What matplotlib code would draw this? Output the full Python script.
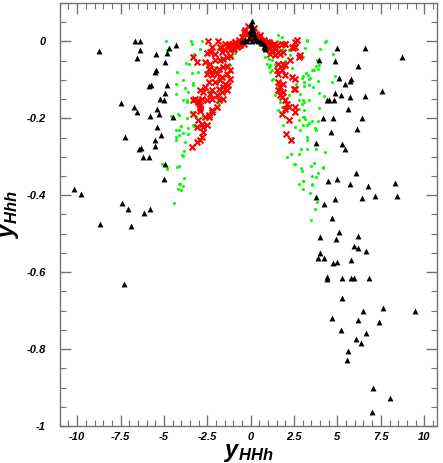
import matplotlib
matplotlib.use('Agg')
import matplotlib.pyplot as plt
import numpy as np

plt.rcParams['font.family'] = ['Liberation Sans', 'DejaVu Sans']
plt.rcParams['mathtext.fontset'] = 'custom'
plt.rcParams['mathtext.it'] = 'Liberation Sans:bold:italic'
plt.rcParams['mathtext.rm'] = 'Liberation Sans:bold:italic'

# black triangles
black_x = [-8.77, -6.66, -6.39, -6.35, -6.54, -4.33, -4.68, -5.43, -4.85, -4.93,
           -5.46, -5.54, -5.85, -5.73, -4.85, -4.93, -5.20, -5.00, -7.48, -6.71,
           -6.54, -5.39, -5.27, -5.81, -4.48, -5.39, -5.18, -7.22, -5.50, -6.31,
           -6.41, -5.49, -6.18, -5.87, -4.95, -4.97, -10.21, -9.79, -7.39, -7.08,
           -6.16, -5.78, -8.71, -6.89, -7.29,
           4.99, 6.60, 8.73, 4.87, 6.21, 3.95, 5.08, 5.78, 5.72, 5.45,
           7.58, 4.87, 5.18, 5.73, 6.60, 4.41, 4.51, 4.80, 5.60, 4.18,
           4.76, 6.41, 6.14, 4.60, 5.26, 5.45, 3.78, 6.06, 4.48, 4.95,
           5.75, 6.77, 8.33, 3.78, 4.83, 4.24, 6.41, 7.19, 8.44, 4.71,
           5.10, 3.97, 4.93, 6.21, 5.93, 6.18, 6.66, 3.99, 3.87, 4.22,
           4.75, 4.95, 5.79, 4.37, 4.37, 5.27, 5.79, 5.93, 6.81, 5.29,
           6.47, 7.60, 9.44, 4.68, 6.20, 7.39, 5.22, 6.66, 6.08, 6.33,
           5.60, 5.56, 7.06, 8.00, 6.98,
           0.05, 0.0, 0.1, 0.05, 0.15, -0.05, 0.2, 0.0, 0.25, -0.1,
           0.3, -0.3, -0.5, 0.4, 0.55, 0.7, 0.8, 0.85, 0.75, 0.1,
           -0.2, 0.6]
black_y = [-0.024, 0.0, 0.0, -0.023, -0.042, -0.010, -0.017, -0.033, -0.030, -0.053,
           -0.073, -0.079, -0.115, -0.113, -0.113, -0.135, -0.149, -0.153, -0.160, -0.171,
           -0.184, -0.176, -0.189, -0.193, -0.197, -0.223, -0.242, -0.249, -0.256, -0.277,
           -0.280, -0.273, -0.301, -0.301, -0.319, -0.359, -0.383, -0.396, -0.420, -0.435,
           -0.447, -0.436, -0.476, -0.480, -0.630,
           -0.018, -0.018, -0.040, -0.050, -0.063, -0.049, -0.094, -0.098, -0.103, -0.110,
           -0.130, -0.134, -0.138, -0.144, -0.141, -0.151, -0.151, -0.151, -0.176, -0.199,
           -0.199, -0.199, -0.227, -0.235, -0.267, -0.279, -0.264, -0.341, -0.363, -0.359,
           -0.370, -0.376, -0.369, -0.405, -0.411, -0.424, -0.406, -0.402, -0.402, -0.459,
           -0.495, -0.508, -0.513, -0.506, -0.532, -0.536, -0.545, -0.551, -0.564, -0.564,
           -0.575, -0.573, -0.569, -0.612, -0.617, -0.616, -0.615, -0.614, -0.616, -0.668,
           -0.701, -0.693, -0.701, -0.718, -0.725, -0.730, -0.751, -0.759, -0.775, -0.784,
           -0.806, -0.829, -0.900, -0.928, -0.964,
           0.052, 0.045, 0.040, 0.035, 0.030, 0.028, 0.020, 0.020, 0.012, 0.010,
           0.005, 0.003, 0.002, 0.0, 0.0, -0.005, -0.012, -0.020, -0.015, 0.0,
           0.0, -0.003]

# green dots
green_x = [-4.87, -3.43, -3.39, -2.78, -3.72, -3.53, -3.26, -3.31, -4.83, -4.25,
           -3.41, -3.01, -3.91, -3.35, -3.33, -4.33, -3.78, -3.64, -4.31, -3.89,
           -3.68, -3.66, -3.12, -4.18, -4.58, -3.68, -3.26, -3.18, -3.27, -2.72,
           -3.60, -4.12, -4.28, -3.91, -3.62, -4.12, -4.31, -4.28, -3.81, -3.85,
           -3.93, -3.89, -5.10, -4.80, -4.24, -4.16, -4.81, -3.87, -4.12, -4.05,
           -3.91, -4.20, -4.01, -4.41, -4.16, -3.43, -4.01, -3.30,
           -1.28, -1.66, -2.05, -2.52, -1.26, -1.57, -1.18, -0.88, -0.60, -0.90,
           -1.00, -0.70, -2.90, -2.20, -1.90, -2.40, -1.40, -0.30, -0.50, -1.10,
           3.24, 4.33, 3.14, 4.02, 3.81, 3.95, 3.78, 3.85, 3.54, 3.66,
           3.18, 3.04, 2.95, 3.43, 3.37, 3.85, 4.83, 4.66, 3.10, 3.10,
           3.37, 3.59, 3.91, 4.22, 2.85, 3.03, 3.35, 3.10, 3.93, 3.07,
           3.14, 3.54, 3.35, 3.24, 2.99, 3.89, 3.68, 3.76, 3.27, 3.22,
           3.22, 3.74, 4.29, 3.66, 3.49, 4.14, 4.16, 2.91, 2.97, 3.89,
           3.76, 3.54, 2.99, 3.54, 2.99, 3.41, 3.81, 3.72, 3.47, 3.80,
           2.32, 2.76, 2.53, 2.80, 3.01, 3.53,
           1.51, 1.89, 0.93, 1.03, 1.22, 1.12, 1.31, 1.22, 1.51, 1.60,
           1.41, 1.70, 1.80, 1.60, 1.99, 1.89, 2.76, 3.04, 3.24, 3.04,
           2.18, 2.28, 1.60, 1.80, 1.12, 1.41, 1.03, 1.22, 1.41, 1.12,
           3.33, 3.05, 2.76, 2.95, 2.76, 3.05, 2.56, 2.85, 4.29, 4.77,
           3.81, 0.80, 0.90, 1.00, 0.85, 1.30, 1.15, 0.70, 2.00, 2.40,
           2.60, 2.20, 2.40, 2.90, 2.10, 2.50]
green_y = [0.0, 0.0, -0.007, 0.0, -0.056, -0.058, -0.033, -0.035, -0.023, -0.080,
           -0.082, -0.079, -0.099, -0.107, -0.113, -0.110, -0.121, -0.132, -0.136, -0.151,
           -0.151, -0.158, -0.165, -0.188, -0.195, -0.199, -0.184, -0.195, -0.220, -0.197,
           -0.225, -0.229, -0.231, -0.238, -0.241, -0.243, -0.249, -0.255, -0.262, -0.284,
           -0.294, -0.299, -0.319, -0.328, -0.326, -0.325, -0.331, -0.355, -0.372, -0.371,
           -0.377, -0.384, -0.387, -0.419, -0.190, -0.184, -0.219, -0.216,
           -0.015, -0.049, -0.067, -0.067, -0.099, -0.116, -0.062, -0.015, 0.003, -0.030,
           -0.005, -0.010, -0.020, -0.100, -0.160, -0.130, -0.020, 0.010, -0.005, -0.040,
           0.0, 0.0, -0.018, -0.020, -0.047, -0.060, -0.065, -0.072, -0.075, -0.075,
           -0.083, -0.090, -0.094, -0.094, -0.098, -0.102, -0.089, -0.106, -0.105, -0.116,
           -0.113, -0.119, -0.133, -0.141, -0.136, -0.151, -0.151, -0.158, -0.173, -0.197,
           -0.202, -0.206, -0.211, -0.216, -0.216, -0.206, -0.224, -0.229, -0.249, -0.255,
           -0.279, -0.279, -0.288, -0.315, -0.325, -0.327, -0.330, -0.330, -0.337, -0.341,
           -0.352, -0.349, -0.364, -0.373, -0.384, -0.393, -0.418, -0.436, -0.465, -0.565,
           -0.292, -0.292, -0.318, -0.372, -0.363, -0.372,
           0.0, -0.019, -0.058, -0.067, -0.075, -0.080, -0.097, -0.101, -0.119, -0.127,
           -0.140, -0.158, -0.171, -0.179, -0.197, -0.218, -0.205, -0.197, 0.003, -0.041,
           -0.023, -0.036, 0.016, 0.011, -0.032, -0.036, -0.045, -0.049, -0.058, -0.062,
           -0.088, -0.106, -0.153, -0.162, -0.175, -0.179, -0.223, -0.231, -0.002, -0.032,
           -0.049, -0.010, -0.020, -0.030, -0.040, -0.010, -0.015, -0.020, -0.050, -0.070,
           -0.110, -0.140, -0.250, -0.280, -0.300, -0.320]

# red crosses
red_x = [-2.47, -1.89, -1.47, -1.24, -0.89, -2.24, -1.76, -2.53, -2.33, -2.05,
         -1.66, -1.47, -1.18, -0.99, -0.80, -0.61, -0.41, -2.62, -2.33, -2.05,
         -1.76, -1.57, -1.37, -1.18, -2.43, -2.14, -1.85, -1.57, -1.37, -2.53,
         -2.24, -1.95, -1.66, -1.37, -1.18, -2.43, -2.05, -1.76, -1.47, -1.18,
         -2.62, -2.24, -1.85, -1.57, -1.28, -2.72, -2.33, -1.95, -1.66, -1.37,
         -2.81, -2.53, -2.24, -1.85, -1.57, -3.20, -3.01, -2.91, -2.24, -1.95,
         -2.43, -2.62, -3.01, -2.81, -3.10, -2.72, -3.30, -3.30, -3.10, -2.91,
         -3.01, -2.91, -3.30, -2.52, -2.72, -2.81, -2.91, -3.10, -3.39, -2.43,
         -2.91, -2.24,
         -0.41, -0.22, -0.51, -0.70, -0.89, -1.09, -0.30, -0.15, -0.60, -1.30,
         -1.00, -0.75,
         -0.03, 0.16, 0.45, 0.74, 0.93, 1.12, 1.32, 1.51, 1.80, 1.99,
         2.56, 2.66, 2.37, 2.56, 1.03, 1.22, 1.41, 1.60, 1.89, 1.12,
         1.41, 1.70, 2.85, 1.60, 1.89, 1.99, 1.51, 1.80, 1.60, 1.99,
         2.37, 2.56, 1.60, 1.89, 2.47, 1.70, 1.60, 1.80, 1.99, 1.89,
         2.08, 2.18, 1.99, 2.56, 2.18, 1.95, 2.43, 2.81, 2.28, 2.56,
         1.70, 2.56, 1.80, 2.04, 2.33,
         0.55, 0.84, 1.03, 1.22, 1.41, 0.30, 0.60, 0.20, 0.10]
red_y = [0.001, 0.001, -0.006, -0.006, -0.002, -0.015, -0.015, -0.030, -0.028, -0.032,
         -0.028, -0.023, -0.023, -0.019, -0.015, -0.010, -0.006, -0.054, -0.058, -0.049,
         -0.049, -0.045, -0.041, -0.037, -0.071, -0.075, -0.071, -0.067, -0.063, -0.084,
         -0.088, -0.084, -0.093, -0.084, -0.075, -0.106, -0.106, -0.101, -0.110, -0.097,
         -0.119, -0.127, -0.123, -0.119, -0.114, -0.132, -0.136, -0.140, -0.132, -0.127,
         -0.149, -0.152, -0.149, -0.153, -0.149, -0.149, -0.158, -0.172, -0.179, -0.171,
         -0.197, -0.197, -0.205, -0.214, -0.223, -0.223, -0.153, -0.041, -0.054, -0.127,
         -0.153, -0.166, -0.188, -0.218, -0.236, -0.249, -0.257, -0.261, -0.274, -0.192,
         -0.181, -0.183,
         0.024, 0.020, 0.011, 0.003, -0.002, -0.006, 0.030, 0.040, -0.005, -0.010,
         -0.020, -0.012,
         0.020, 0.028, 0.011, 0.003, -0.002, -0.006, -0.006, -0.010, -0.006, -0.006,
         -0.002, 0.003, -0.015, -0.015, -0.019, -0.023, -0.019, -0.028, -0.028, -0.032,
         -0.036, -0.032, -0.036, -0.058, -0.058, -0.062, -0.075, -0.075, -0.084, -0.088,
         -0.093, -0.097, -0.106, -0.110, -0.123, -0.119, -0.127, -0.145, -0.153, -0.132,
         -0.162, -0.171, -0.175, -0.184, -0.205, -0.006, -0.017, -0.041, -0.049, -0.123,
         -0.140, -0.171, -0.188, -0.240, -0.255,
         0.016, -0.006, -0.002, -0.010, -0.015, 0.020, 0.005, 0.035, 0.010]

x_ticks = [-10, -7.5, -5, -2.5, 0, 2.5, 5, 7.5, 10]
x_labels = ['-10', '-7.5', '-5', '-2.5', '0', '2.5', '5', '7.5', '10']
y_ticks = [-1, -0.8, -0.6, -0.4, -0.2, 0]
y_labels = ['-1', '-0.8', '-0.6', '-0.4', '-0.2', '0']

fig = plt.figure(figsize=(4.43, 4.63), dpi=100)
ax = fig.add_axes([0.135, 0.08, 0.852, 0.9135])

ax.scatter(green_x, green_y, s=5, marker='o', color='#00ff00', linewidths=0, zorder=2)
ax.scatter(red_x, red_y, s=18, marker='x', color='#ff0000', linewidths=1.5, zorder=3)
ax.scatter(black_x, black_y, s=18, marker='^', color='black', linewidths=0, zorder=4)

ax.set_xlim(-11, 10.75)
ax.set_ylim(-1, 0.1)
ax.set_xticks(x_ticks)
ax.set_xticklabels(x_labels)
ax.set_yticks(y_ticks)
ax.set_yticklabels(y_labels)
ax.set_xticks(np.arange(-11, 10.8, 0.5), minor=True)
ax.set_yticks(np.arange(-1, 0.101, 0.05), minor=True)
ax.tick_params(which='both', direction='in', top=True, right=True, color='0.45')
ax.tick_params(which='major', length=8, width=1, labelsize=8)
ax.tick_params(which='minor', length=4, width=0.8)
ax.tick_params(axis='x', which='major', pad=4)
ax.tick_params(axis='y', which='major', pad=10)
for lab in ax.get_xticklabels() + ax.get_yticklabels():
    lab.set_fontweight('bold')
    lab.set_fontstyle('italic')
for sp in ax.spines.values():
    sp.set_color('0.45')
    sp.set_linewidth(1)

ax.set_xlabel(r'$y_{HHh}$', fontsize=17, labelpad=0)
ax.set_ylabel(r'$y_{Hhh}$', fontsize=17, labelpad=4)

plt.savefig('out.png', dpi=100)
plt.close()
